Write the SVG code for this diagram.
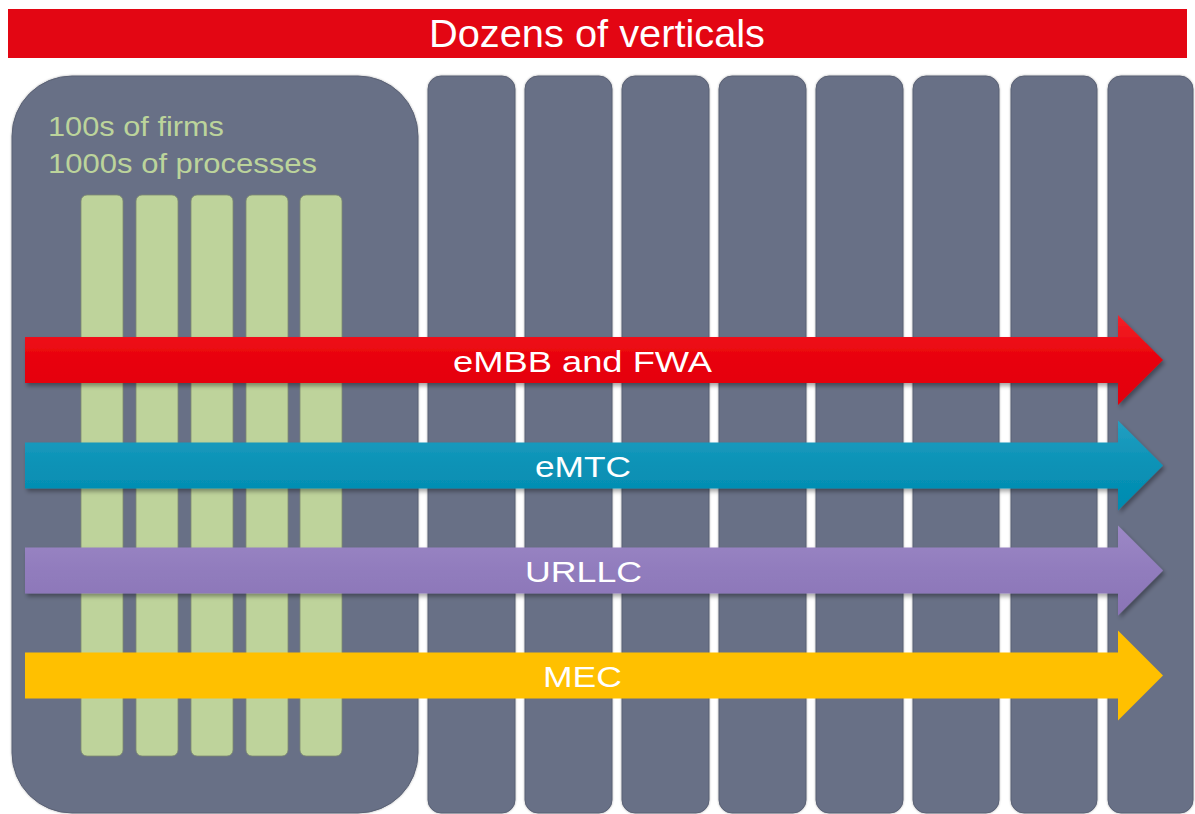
<svg xmlns="http://www.w3.org/2000/svg" width="1195" height="814" viewBox="0 0 1195 814">
<defs>
<style>
.col{fill:#687086;stroke:#5a6174;stroke-width:1}
.firm{fill:#bed39b;stroke:#7d8a70;stroke-width:0.8}
.lbl{font-family:"Liberation Sans",Arial,sans-serif;fill:#ffffff;font-size:30px;text-anchor:middle}
.grn{font-family:"Liberation Sans",Arial,sans-serif;fill:#bcd49b;font-size:28px}
</style>
<linearGradient id="gRed" x1="0" y1="0" x2="0" y2="1"><stop offset="0" stop-color="#f4222b"/><stop offset="0.5" stop-color="#e80009"/><stop offset="1" stop-color="#e2000b"/></linearGradient>
<linearGradient id="gTeal" x1="0" y1="0" x2="0" y2="1"><stop offset="0" stop-color="#249fc2"/><stop offset="0.5" stop-color="#0a92b6"/><stop offset="1" stop-color="#008bb0"/></linearGradient>
<linearGradient id="gPur" x1="0" y1="0" x2="0" y2="1"><stop offset="0" stop-color="#9c88c6"/><stop offset="0.5" stop-color="#917cbd"/><stop offset="1" stop-color="#8a74b6"/></linearGradient>
<filter id="sh" x="-5%" y="-20%" width="110%" height="150%"><feDropShadow dx="2" dy="3" stdDeviation="2" flood-color="#000" flood-opacity="0.35"/></filter>
<filter id="csh" x="-10%" y="-5%" width="120%" height="110%"><feDropShadow dx="0" dy="0" stdDeviation="1" flood-color="#000" flood-opacity="0.3"/></filter>
<path id="arr" d="M25,-23 H1118 V-45 L1163,0 L1118,45 V23 H25 Z"/>
</defs>
<rect width="1195" height="814" fill="#ffffff"/>
<g id="title">
<rect x="8" y="9" width="1179" height="49" fill="#e30613"/>
<text x="597" y="47" class="lbl" style="font-size:38px" textLength="336" lengthAdjust="spacingAndGlyphs">Dozens of verticals</text>
</g>
<g id="main-block" filter="url(#csh)">
<rect x="12" y="76" width="406" height="737" rx="60" ry="60" class="col"/>
</g>
<g id="main-text">
<text x="48" y="136" class="grn" textLength="176" lengthAdjust="spacingAndGlyphs">100s of firms</text>
<text x="48" y="173" class="grn" textLength="269" lengthAdjust="spacingAndGlyphs">1000s of processes</text>
</g>
<g id="firms">
<rect x="81" y="195" width="42" height="561" rx="6" class="firm"/>
<rect x="136" y="195" width="42" height="561" rx="6" class="firm"/>
<rect x="191" y="195" width="42" height="561" rx="6" class="firm"/>
<rect x="246" y="195" width="42" height="561" rx="6" class="firm"/>
<rect x="300" y="195" width="42" height="561" rx="6" class="firm"/>
</g>
<g id="verticals" filter="url(#csh)">
<rect x="428" y="76" width="87" height="737" rx="13" class="col"/>
<rect x="525" y="76" width="87" height="737" rx="13" class="col"/>
<rect x="622" y="76" width="87" height="737" rx="13" class="col"/>
<rect x="719" y="76" width="87" height="737" rx="13" class="col"/>
<rect x="816" y="76" width="87" height="737" rx="13" class="col"/>
<rect x="913" y="76" width="86" height="737" rx="13" class="col"/>
<rect x="1011" y="76" width="86" height="737" rx="13" class="col"/>
<rect x="1108" y="76" width="85" height="737" rx="13" class="col"/>
</g>
<g id="connectors">
<g id="arrow-embb" transform="translate(0,360)">
<use href="#arr" fill="url(#gRed)" filter="url(#sh)"/>
<text x="582.5" y="11.5" class="lbl" textLength="259" lengthAdjust="spacingAndGlyphs">eMBB and FWA</text>
</g>
<g id="arrow-emtc" transform="translate(0,465.5)">
<use href="#arr" fill="url(#gTeal)" filter="url(#sh)"/>
<text x="583" y="11.5" class="lbl" textLength="96" lengthAdjust="spacingAndGlyphs">eMTC</text>
</g>
<g id="arrow-urllc" transform="translate(0,570.5)">
<use href="#arr" fill="url(#gPur)" filter="url(#sh)"/>
<text x="583.5" y="11.5" class="lbl" textLength="117" lengthAdjust="spacingAndGlyphs">URLLC</text>
</g>
<g id="arrow-mec" transform="translate(0,675.5)">
<use href="#arr" fill="#ffc000"/>
<text x="582.5" y="11.5" class="lbl" textLength="79" lengthAdjust="spacingAndGlyphs">MEC</text>
</g>
</g>
</svg>
